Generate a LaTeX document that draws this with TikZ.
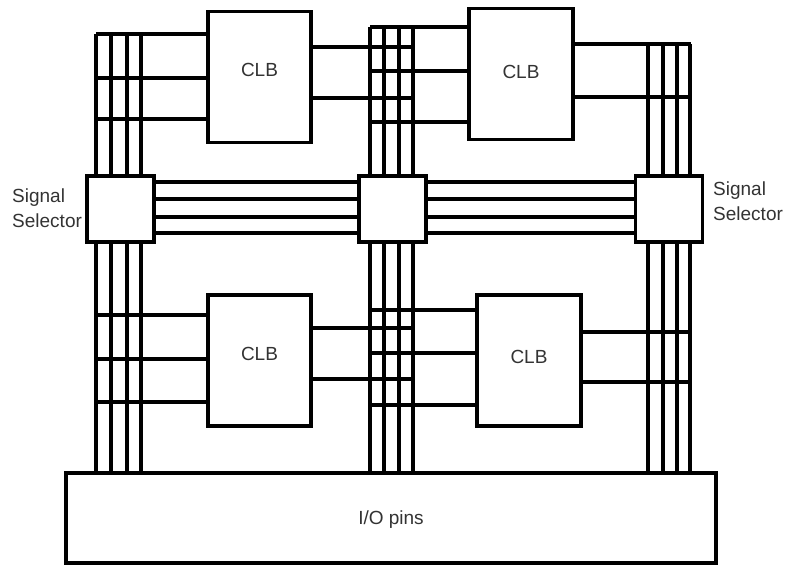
\documentclass[tikz,border=0pt]{standalone}
\usepackage{fontspec}
\setmainfont{Liberation Sans}
\begin{document}
\begin{tikzpicture}[x=1pt,y=-1pt,
  wire/.style={line width=3.1pt},
  blk/.style={draw,line width=3.1pt,fill=white,inner sep=0pt,outer sep=0pt},
  clb/.style={blk,minimum width=103pt,minimum height=131pt},
  sel/.style={blk,minimum width=67pt,minimum height=66pt},
  txt/.style={font=\fontsize{19}{24.5}\selectfont,text=black!80,inner sep=0pt}
]
\useasboundingbox (0,0) rectangle (786,565);
\path (259.5,77) coordinate (c1) (521,74) coordinate (c2)
      (259.5,360.5) coordinate (c3) (529,360.5) coordinate (c4);
% ---- left bus
\foreach \x in {96,111,127,141} \draw[wire] (\x,34) -- (\x,473);
\foreach \y in {34,78,119} \draw[wire] (96,\y) -- (208,\y);
\foreach \y in {315,359,402} \draw[wire] (96,\y) -- (208,\y);
% ---- middle bus
\foreach \x in {370,384,399,413} \draw[wire] (\x,27) -- (\x,473);
\foreach \y in {27,71,122} \draw[wire] (370,\y) -- (469,\y);
\foreach \y in {47,98} \draw[wire] (311,\y) -- (414,\y);
\foreach \y in {310,353,405} \draw[wire] (370,\y) -- (477,\y);
\foreach \y in {328,379} \draw[wire] (311,\y) -- (414,\y);
% ---- right bus
\foreach \x in {648,663,677,690} \draw[wire] (\x,44) -- (\x,473);
\foreach \y in {44,97} \draw[wire] (573,\y) -- (691,\y);
\foreach \y in {332,382} \draw[wire] (581,\y) -- (691,\y);
% ---- signal selectors
\node[sel] (s1) at (120.5,209) {};
\node[sel] (s2) at (392.5,209) {};
\node[sel] (s3) at (669,209) {};
\foreach \y in {182,199,217,233} {
  \draw[wire] (s1.east |- 0,\y) -- (s2.west |- 0,\y);
  \draw[wire] (s2.east |- 0,\y) -- (s3.west |- 0,\y);
}
% ---- CLBs
\node[clb,label={[txt,yshift=7pt]center:CLB}] (clb1) at (c1) {};
\node[clb,minimum width=104pt,label={[txt,yshift=2pt]center:CLB}] (clb2) at (c2) {};
\node[clb,label={[txt,yshift=7pt]center:CLB}] (clb3) at (c3) {};
\node[clb,minimum width=104pt,label={[txt,yshift=4pt]center:CLB}] (clb4) at (c4) {};
% ---- I/O
\node[blk,minimum width=650pt,minimum height=90pt] (io) at (391,518) {};
\node[txt] (iot) at ([yshift=-2pt]io.center) {I/O pins};
% ---- labels
\node[txt,align=left,anchor=base west] (l1) at (12,227) {Signal\\Selector};
\node[txt,align=left,anchor=base west] (l2) at (713,220) {Signal\\Selector};
\end{tikzpicture}
\end{document}
